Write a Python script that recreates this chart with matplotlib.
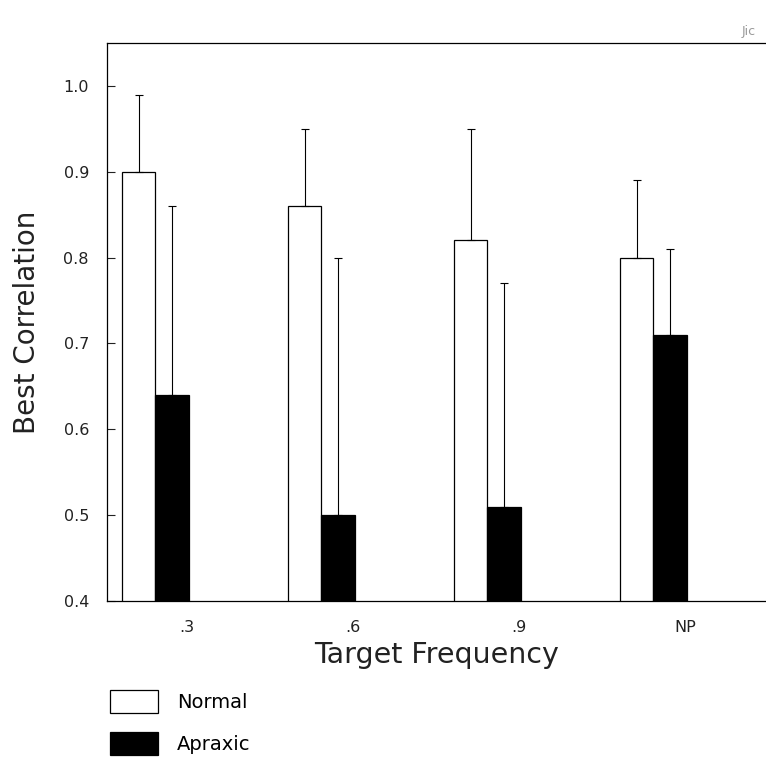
import matplotlib
matplotlib.use('Agg')
import matplotlib.pyplot as plt
import numpy as np

freqs = ['.3', '.6', '.9', 'NP']
normal = [0.90, 0.86, 0.82, 0.80]
normal_top = [0.99, 0.95, 0.95, 0.89]
apraxic = [0.64, 0.50, 0.51, 0.71]
apraxic_top = [0.86, 0.80, 0.77, 0.81]

plt.rc('font', family='DejaVu Sans')

fig = plt.figure(figsize=(7.66, 7.59), dpi=100)
ax = fig.add_axes([107 / 766, 1 - 601 / 759, 1 - 107 / 766, (601 - 43) / 759])

x = np.arange(len(freqs))
w = 0.2
normal_err = np.array(normal_top) - np.array(normal)
apraxic_err = np.array(apraxic_top) - np.array(apraxic)

b1 = ax.bar(x - w / 2, normal, width=w, color='white',
            edgecolor='black', linewidth=0.9, label='Normal')
b2 = ax.bar(x + w / 2, apraxic, width=w, color='black',
            edgecolor='black', linewidth=0.9, label='Apraxic')
ax.errorbar(x - w / 2, normal, yerr=[np.zeros(4), normal_err], fmt='none',
            ecolor='black', elinewidth=0.8, capsize=3, capthick=0.8)
ax.errorbar(x + w / 2, apraxic, yerr=[np.zeros(4), apraxic_err], fmt='none',
            ecolor='black', elinewidth=0.8, capsize=3, capthick=0.8)

ax.set_ylim(0.4, 1.05)
ax.set_xlim(-0.292, (766 - 155.5) / 166)
ax.set_yticks([0.4, 0.5, 0.6, 0.7, 0.8, 0.9, 1.0])
ax.set_yticklabels(['0.4', '0.5', '0.6', '0.7', '0.8', '0.9', '1.0'])
ax.set_xticks(x + 0.19)
ax.set_xticklabels(freqs)
ax.tick_params(axis='y', direction='in', length=6, width=0.8, labelsize=11.5,
               pad=13, colors='#222222')
ax.tick_params(axis='x', direction='in', length=0, labelsize=11.5, pad=14,
               colors='#222222')
ax.spines['right'].set_visible(False)
for s in ['left', 'top', 'bottom']:
    ax.spines[s].set_linewidth(0.9)

ax.set_ylabel('Best Correlation', fontsize=20, labelpad=16, color='#222222')
ax.set_xlabel('Target Frequency', fontsize=20.5, labelpad=4, color='#222222')

fig.legend(handles=[b1, b2], labels=['Normal', 'Apraxic'],
           loc='upper left', bbox_to_anchor=(94 / 766, 1 - 674 / 759),
           frameon=False, fontsize=14, handlelength=2.5, handleheight=1.5,
           labelspacing=0.95, handletextpad=0.95, borderpad=0.3)

fig.text(742 / 766, 1 - 31 / 759, 'Jic', fontsize=9, color='#999999',
         va='center')

fig.savefig('out.png', dpi=100)
